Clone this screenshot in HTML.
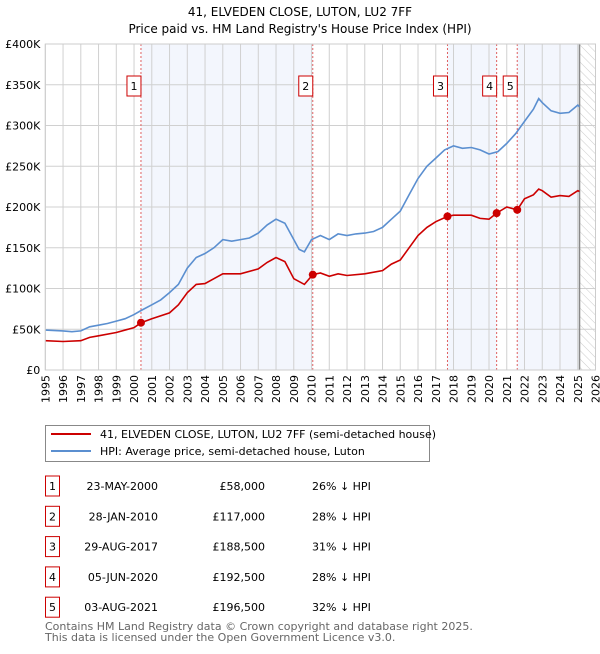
<!DOCTYPE html>
<html><head><meta charset="utf-8"><style>
body{margin:0;background:#fff;font-family:"DejaVu Sans","Liberation Sans",sans-serif;}
svg text{font-family:"DejaVu Sans","Liberation Sans",sans-serif;}
</style></head><body>
<svg id="c" width="600" height="650" xmlns="http://www.w3.org/2000/svg">
<defs><pattern id="hatch" width="6" height="6" patternUnits="userSpaceOnUse" patternTransform="rotate(-45)"><line x1="0" y1="0" x2="0" y2="6" stroke="#ccc" stroke-width="1"/></pattern></defs>
<text x="300" y="16" text-anchor="middle" font-size="12">41, ELVEDEN CLOSE, LUTON, LU2 7FF</text>
<text x="300" y="33" text-anchor="middle" font-size="12">Price paid vs. HM Land Registry's House Price Index (HPI)</text>
<g id="plot"></g>
<g>
<rect x="45.5" y="425.5" width="384" height="36" fill="#fff" stroke="#888"/>
<line x1="51" y1="434" x2="91" y2="434" stroke="#cc0000" stroke-width="2"/>
<text x="100" y="438" font-size="11">41, ELVEDEN CLOSE, LUTON, LU2 7FF (semi-detached house)</text>
<line x1="51" y1="451" x2="91" y2="451" stroke="#5b8fd0" stroke-width="2"/>
<text x="100" y="455" font-size="11">HPI: Average price, semi-detached house, Luton</text>
</g>
<g id="table"></g>
<text x="45" y="630" font-size="11" fill="#666">Contains HM Land Registry data © Crown copyright and database right 2025.</text>
<text x="45" y="641" font-size="11" fill="#666">This data is licensed under the Open Government Licence v3.0.</text>
</svg>
<script>
const hpiT=[1995,1996,1996.5,1997,1997.5,1998,1998.5,1999,1999.5,2000,2000.4,2001,2001.5,2002,2002.5,2003,2003.5,2004,2004.5,2005,2005.5,2006,2006.5,2007,2007.5,2008,2008.5,2009,2009.3,2009.6,2010,2010.5,2011,2011.5,2012,2012.5,2013,2013.5,2014,2014.5,2015,2015.5,2016,2016.5,2017,2017.5,2018,2018.5,2019,2019.5,2020,2020.5,2021,2021.5,2022,2022.5,2022.8,2023,2023.5,2024,2024.5,2025,2025.1];
const hpiV=[49,48,47,48,53,55,57,60,63,68,73,80,86,95,105,125,138,143,150,160,158,160,162,168,178,185,180,160,148,145,160,165,160,167,165,167,168,170,175,185,195,215,235,250,260,270,275,272,273,270,265,268,278,290,305,320,333,328,318,315,316,325,323];
const redT=[1995,1996,1997,1997.5,1998,1999,2000,2000.4,2001,2002,2002.5,2003,2003.5,2004,2004.5,2005,2006,2007,2007.5,2008,2008.5,2009,2009.6,2010.07,2010.5,2011,2011.5,2012,2013,2014,2014.5,2015,2015.5,2016,2016.5,2017,2017.66,2018,2019,2019.5,2020,2020.43,2021,2021.59,2022,2022.5,2022.8,2023,2023.5,2024,2024.5,2025,2025.1];
const redV=[36,35,36,40,42,46,52,58,63,70,80,95,105,106,112,118,118,124,132,138,133,112,105,117,119,115,118,116,118,122,130,135,150,165,175,182,188.5,190,190,186,185,192.5,200,196.5,210,215,222,220,212,214,213,220,219];
const saleT=[2000.39,2010.07,2017.66,2020.43,2021.59];
const saleV=[58,117,188.5,192.5,196.5];
const saleDate=["23-MAY-2000","28-JAN-2010","29-AUG-2017","05-JUN-2020","03-AUG-2021"];
const salePrice=["£58,000","£117,000","£188,500","£192,500","£196,500"];
const salePct=["26% ↓ HPI","28% ↓ HPI","31% ↓ HPI","28% ↓ HPI","32% ↓ HPI"];
const yTicks=[0,50,100,150,200,250,300,350,400];
const yLabels=["£0","£50K","£100K","£150K","£200K","£250K","£300K","£350K","£400K"];
const xYears=[];for(let y=1995;y<=2026;y++)xYears.push(y);
const dataEnd=2025.1;

const X0=45.3,X1=595.5,Y0=370,Y1=44;
const xs=t=>X0+(t-1995)/(2026-1995)*(X1-X0);
const ys=v=>Y0-v/400*(Y0-Y1);
const NS="http://www.w3.org/2000/svg";
const g=document.getElementById('plot');
function mk(tag,attrs,parent){const e=document.createElementNS(NS,tag);for(const k in attrs)e.setAttribute(k,attrs[k]);(parent||g).appendChild(e);return e;}
const bands=[[saleT[0],saleT[1]],[saleT[2],saleT[3]],[saleT[4],dataEnd]];
bands.forEach(b=>{const r=mk('rect',{x:xs(b[0]),y:Y1,width:xs(b[1])-xs(b[0]),height:Y0-Y1,fill:'#f3f6fd'});

});
const hr=mk('rect',{x:xs(dataEnd),y:Y1,width:X1-xs(dataEnd),height:Y0-Y1,fill:'url(#hatch)'});


xYears.forEach(y=>{const l=mk('line',{x1:xs(y),x2:xs(y),y1:Y1,y2:Y0,stroke:'#d0d0d0'});


const px=xs(y)+4,py=Y0+5;
const t=mk('text',{x:px,y:py,'font-size':11,'text-anchor':'end',transform:'rotate(-90 '+px+' '+py+')'});t.textContent=y;

});
yTicks.forEach((v,i)=>{const l=mk('line',{x1:X0,x2:X1,y1:ys(v),y2:ys(v),stroke:'#d0d0d0'});


const t=mk('text',{x:X0-5,y:ys(v)+4,'font-size':11,'text-anchor':'end'});t.textContent=yLabels[i];

});
const el=mk('line',{x1:xs(dataEnd),x2:xs(dataEnd),y1:Y1,y2:Y0,stroke:'#888','stroke-width':1.5});


saleT.forEach((t,i)=>{const l=mk('line',{x1:xs(t),x2:xs(t),y1:Y1,y2:Y0,stroke:'#e06060','stroke-dasharray':'2,2'});


const r=mk('rect',{x:xs(t)-14,y:76,width:14,height:20,fill:'#fff',stroke:'#cc0000'});


const tx=mk('text',{x:xs(t)-7,y:90,'font-size':11,'text-anchor':'middle'});tx.textContent=i+1;

});
function line(T,V,col,name){const d=T.map((t,i)=>(i?'L':'M')+xs(t).toFixed(1)+','+ys(V[i]).toFixed(1)).join('');
const p=mk('path',{d:d,fill:'none',stroke:col,'stroke-width':1.6});

}
line(hpiT,hpiV,'#5b8fd0','hpi-line');
line(redT,redV,'#cc0000','property-line');
saleT.forEach((t,i)=>{const c=mk('circle',{cx:xs(t),cy:ys(saleV[i]),r:4,fill:'#cc0000'});

});
mk('rect',{x:X0,y:Y1,width:X1-X0,height:Y0-Y1,fill:'none',stroke:'#ccc'});
const tb=document.getElementById('table');
saleT.forEach((t,i)=>{const yc=486+i*30.3;
const r=mk('rect',{x:45.5,y:yc-10,width:14,height:20,fill:'#fff',stroke:'#cc0000'},tb);


const n=mk('text',{x:52.5,y:yc+4,'font-size':11,'text-anchor':'middle'},tb);n.textContent=i+1;


const a=mk('text',{x:158,y:yc+4,'font-size':11,'text-anchor':'end'},tb);a.textContent=saleDate[i];


const b=mk('text',{x:265,y:yc+4,'font-size':11,'text-anchor':'end'},tb);b.textContent=salePrice[i];


const c=mk('text',{x:312,y:yc+4,'font-size':11},tb);c.textContent=salePct[i];

});
</script>
</body></html>
